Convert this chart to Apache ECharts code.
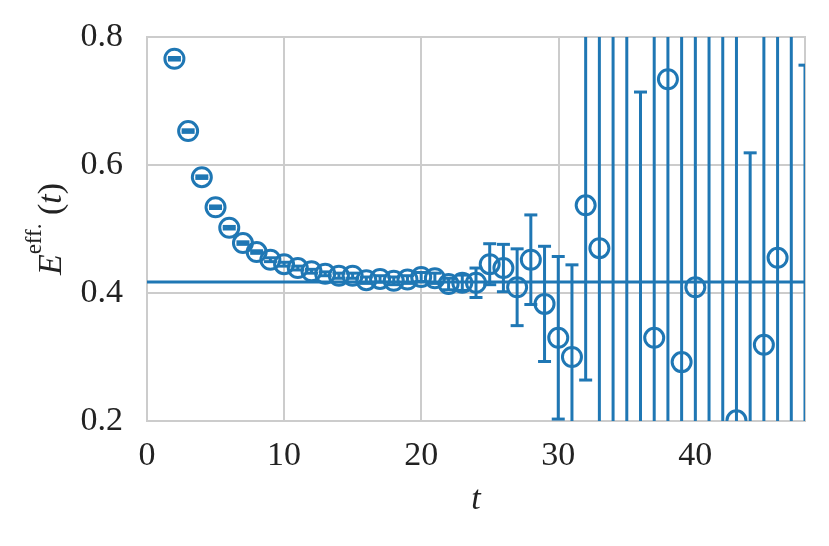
<!DOCTYPE html>
<html>
<head>
<meta charset="utf-8">
<script src="https://cdn.jsdelivr.net/npm/echarts@6/dist/echarts.min.js"></script>
<style>html,body{margin:0;padding:0;background:#fff}#c{width:829px;height:546px}</style>
</head>
<body>
<div id="c"></div>
<script>
// time slices
const tValues = [2,3,4,5,6,7,8,9,10,11,12,13,14,15,16,17,18,19,20,21,22,23,24,25,26,27,28,29,30,31,32,33,34,35,36,37,38,39,40,41,42,43,44,45,46,47,48];
// effective energy
const effEnergy = [0.766,0.653,0.581,0.534,0.502,0.478,0.464,0.452,0.445,0.439,0.434,0.430,0.427,0.427,0.420,0.422,0.419,0.421,0.425,0.423,0.414,0.416,0.416,0.445,0.439,0.409,0.452,0.383,0.330,0.300,0.537,0.470,0.10,0.10,0.10,0.330,0.734,0.292,0.409,0.10,0.05,0.201,0.10,0.319,0.455,0.10,0.10];
// error bars (half-width)
const effError = [0.002,0.002,0.002,0.002,0.002,0.002,0.002,0.003,0.003,0.003,0.003,0.003,0.004,0.004,0.005,0.005,0.006,0.006,0.007,0.008,0.009,0.012,0.023,0.032,0.037,0.060,0.070,0.090,0.127,0.144,0.273,0.50,0.9,0.8,0.614,0.6,0.6,0.6,0.6,0.9,0.9,0.9,0.519,0.6,0.5,0.9,0.656];
// fitted plateau
const plateauT = [0, 48];
const plateauE = 0.417;
const xTicks = [0, 10, 20, 30, 40];
const yTicks = [0.2, 0.4, 0.6, 0.8];

const color = '#1f77b4';
const data = tValues.map((t, i) => [t, effEnergy[i], effError[i]]);
const chart = echarts.init(document.getElementById('c'), null, {renderer: 'canvas'});
const serif = '"Liberation Serif", "DejaVu Serif", serif';

chart.setOption({
  animation: false,
  backgroundColor: '#fff',
  grid: {left: 147, right: 24, top: 37, bottom: 125, show: true, borderColor: '#cccccc', borderWidth: 2, backgroundColor: 'transparent'},
  xAxis: {
    type: 'value', min: 0, max: 48, interval: 10,
    axisLine: {show: false}, axisTick: {show: false},
    splitLine: {show: true, lineStyle: {color: '#cccccc', width: 2}},
    axisLabel: {color: '#222', fontFamily: serif, fontSize: 34, margin: 18, showMaxLabel: false,
      formatter: v => xTicks.includes(v) ? String(v) : ''},
    name: '{t|t}', nameLocation: 'middle', nameGap: 62,
    nameTextStyle: {rich: {t: {fontFamily: serif, fontStyle: 'italic', fontSize: 34, color: '#222'}}}
  },
  yAxis: {
    type: 'value', min: 0.2, max: 0.8, interval: 0.2,
    axisLine: {show: false}, axisTick: {show: false},
    splitLine: {show: true, lineStyle: {color: '#cccccc', width: 2}},
    axisLabel: {color: '#222', fontFamily: serif, fontSize: 34, margin: 24,
      formatter: v => { const m = yTicks.find(y => Math.abs(y - v) < 1e-9); return m !== undefined ? m.toFixed(1) : ''; }},
    name: '{e|E}{s|eff.}{p| (}{t|t}{p|)}', nameLocation: 'middle', nameGap: 78,
    nameTextStyle: {rich: {
      e: {fontFamily: serif, fontStyle: 'italic', fontSize: 34, color: '#222', lineHeight: 46, verticalAlign: 'bottom'},
      s: {fontFamily: serif, fontSize: 23, color: '#222', verticalAlign: 'top', lineHeight: 26},
      p: {fontFamily: serif, fontSize: 34, color: '#222', lineHeight: 46, verticalAlign: 'bottom'},
      t: {fontFamily: serif, fontStyle: 'italic', fontSize: 34, color: '#222', lineHeight: 46, verticalAlign: 'bottom'}
    }}
  },
  series: [
    {
      type: 'line', data: plateauT.map(t => [t, plateauE]), symbol: 'none',
      lineStyle: {color: color, width: 3}, z: 2, silent: true
    },
    {
      type: 'custom', clip: true, z: 3, data: data,
      renderItem: function (params, api) {
        const x = api.value(0), y = api.value(1), e = api.value(2);
        const c = api.coord([x, y]);
        const top = api.coord([x, y + e]);
        const bot = api.coord([x, y - e]);
        const cs = params.coordSys;
        const y0 = cs.y, y1 = cs.y + cs.height;
        const ty = Math.max(top[1], y0), by = Math.min(bot[1], y1);
        const st = {stroke: color, lineWidth: 3, fill: null};
        const ch = [];
        if (ty < by) ch.push({type: 'line', shape: {x1: c[0], y1: ty, x2: c[0], y2: by}, style: st});
        const cw = 6.5;
        if (top[1] >= y0 - 1) ch.push({type: 'line', shape: {x1: c[0] - cw, y1: top[1], x2: c[0] + cw, y2: top[1]}, style: st});
        if (bot[1] <= y1 + 1) ch.push({type: 'line', shape: {x1: c[0] - cw, y1: bot[1], x2: c[0] + cw, y2: bot[1]}, style: st});
        if (c[1] > y0 - 12 && c[1] < y1 + 12) {
          ch.push({type: 'circle', shape: {cx: c[0], cy: c[1], r: 9.5}, style: {stroke: color, lineWidth: 3, fill: null}});
        }
        return {type: 'group', children: ch};
      }
    }
  ]
});
</script>
</body>
</html>
